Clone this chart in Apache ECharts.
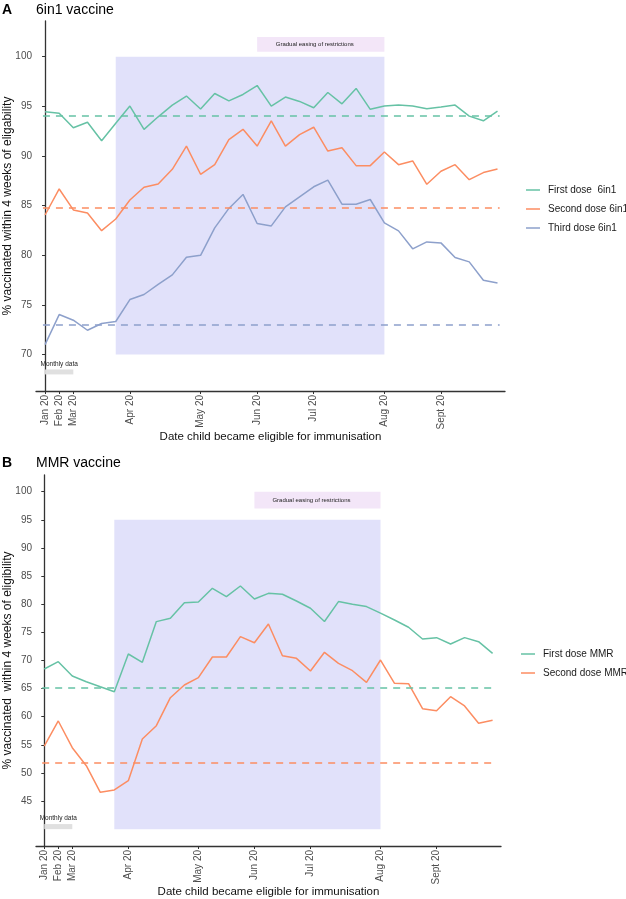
<!DOCTYPE html>
<html>
<head>
<meta charset="utf-8">
<script src="https://cdn.jsdelivr.net/npm/echarts@6/dist/echarts.min.js"></script>
<style>
  html, body { margin: 0; padding: 0; background: #fff; }
  #chart { width: 626px; height: 899px; }
</style>
</head>
<body>
<div id="chart"></div>
<script>
// x positions are week indices: 0-2 monthly points, then weekly
const xTickPos = [0, 1, 2, 6, 11, 15, 19, 24, 28];
const xTickLabels = ['Jan 20', 'Feb 20', 'Mar 20', 'Apr 20', 'May 20', 'Jun 20', 'Jul 20', 'Aug 20', 'Sept 20'];
const yTicksA = [70, 75, 80, 85, 90, 95, 100];
const yTicksB = [45, 50, 55, 60, 65, 70, 75, 80, 85, 90, 95, 100];

// panel A - 6in1
const namesA = ['First dose  6in1', 'Second dose 6in1', 'Third dose 6in1'];
const firstDose6in1 = [94.46, 94.3, 92.84, 93.4, 91.53, 93.3, 95.03, 92.68, 93.95, 95.13, 96.04, 94.73, 96.3, 95.56, 96.2, 97.1, 95.03, 95.94, 95.5, 94.86, 96.4, 95.26, 96.81, 94.7, 95.03, 95.13, 95.03, 94.76, 94.93, 95.13, 94.02, 93.55, 94.53];
const secondDose6in1 = [84.06, 86.68, 84.57, 84.26, 82.48, 83.66, 85.57, 86.85, 87.19, 88.66, 91.0, 88.16, 89.13, 91.65, 92.69, 91.0, 93.53, 91.0, 92.16, 92.9, 90.5, 90.84, 89.03, 89.03, 90.4, 89.13, 89.5, 87.15, 88.46, 89.13, 87.62, 88.33, 88.69];
const thirdDose6in1 = [71.0, 74.03, 73.46, 72.45, 73.13, 73.33, 75.54, 76.05, 77.06, 78.03, 79.81, 80.0, 82.76, 84.72, 86.13, 83.2, 82.96, 84.88, 85.89, 86.9, 87.57, 85.15, 85.15, 85.62, 83.27, 82.46, 80.65, 81.35, 81.25, 79.78, 79.34, 77.49, 77.22];
const baselineA = [94.02, 84.77, 73.02];

// panel B - MMR
const namesB = ['First dose MMR', 'Second dose MMR'];
const firstDoseMMR = [68.47, 69.77, 67.23, 66.21, 65.32, 64.44, 71.14, 69.66, 76.9, 77.49, 80.26, 80.39, 82.82, 81.33, 83.23, 80.92, 81.93, 81.76, 80.57, 79.27, 76.91, 80.46, 80.0, 79.57, 78.4, 77.19, 75.9, 73.8, 74.05, 72.92, 74.05, 73.33, 71.26];
const secondDoseMMR = [54.78, 59.23, 54.48, 51.28, 46.55, 46.96, 48.61, 56.02, 58.39, 63.37, 65.63, 66.93, 70.6, 70.6, 74.22, 73.15, 76.47, 70.84, 70.37, 68.11, 71.44, 69.48, 68.17, 66.1, 70.07, 65.93, 65.86, 61.41, 61.06, 63.55, 61.9, 58.81, 59.35];
const baselineB = [65.22, 51.82];

const colors = ['#66c2a5', '#fc8d62', '#8da0cb'];
const FONT = 'Liberation Sans, Arial, sans-serif';

function xAxisFor(grid, min, max) {
  return {
    gridIndex: grid, type: 'value', min: min, max: max,
    name: 'Date child became eligible for immunisation',
    nameLocation: 'middle', nameGap: 40, nameMoveOverlap: false,
    nameTextStyle: { fontFamily: FONT, fontSize: 11.5, color: '#111', verticalAlign: 'top' },
    splitLine: { show: false },
    axisLine: { lineStyle: { color: '#333', width: 1.3 } },
    axisTick: { customValues: xTickPos, length: 3, lineStyle: { color: '#333' } },
    axisLabel: {
      customValues: xTickPos, rotate: 90, margin: 4,
      fontFamily: FONT, fontSize: 10, color: '#4d4d4d',
      formatter: v => xTickLabels[xTickPos.indexOf(v)] || ''
    }
  };
}

function yAxisFor(grid, min, max, ticks, title) {
  return {
    gridIndex: grid, type: 'value', min: min, max: max,
    name: title, nameLocation: 'middle', nameGap: 22, nameMoveOverlap: false,
    nameTextStyle: { fontFamily: FONT, fontSize: 12, color: '#111' },
    splitLine: { show: false },
    axisLine: { show: true, lineStyle: { color: '#333', width: 1.3 } },
    axisTick: { show: true, customValues: ticks, length: 3, lineStyle: { color: '#333' } },
    axisLabel: { customValues: ticks, margin: 4, fontFamily: FONT, fontSize: 10, color: '#4d4d4d' }
  };
}

function lineSeries(name, values, color, base, axis) {
  return {
    name: name, type: 'line', xAxisIndex: axis, yAxisIndex: axis,
    data: values.map((v, i) => [i, v]),
    showSymbol: false, z: 3, silent: true,
    lineStyle: { color: color, width: 1.5 },
    itemStyle: { color: color },
    markLine: {
      silent: true, symbol: 'none', label: { show: false },
      lineStyle: { color: color, type: [7, 6], width: 1.5 },
      data: [[{ coord: [-0.15, base] }, { coord: [32.15, base] }]]
    }
  };
}

function areaSeries(axis, shadeTop, shadeBottom, boxTop, boxBottom, monthTop, monthBottom) {
  return {
    type: 'line', xAxisIndex: axis, yAxisIndex: axis, data: [], z: 1, silent: true,
    markArea: {
      silent: true,
      data: [
        [{ xAxis: 5, yAxis: shadeBottom, itemStyle: { color: '#e1e1fa' } }, { xAxis: 24, yAxis: shadeTop }],
        [{ xAxis: 15, yAxis: boxBottom, itemStyle: { color: '#f3e6f8' },
           label: { show: true, position: 'inside', offset: [-6, 0], fontFamily: FONT, fontSize: 6, color: '#222',
                    formatter: 'Gradual easing of restrictions' } },
         { xAxis: 24, yAxis: boxTop }],
        [{ xAxis: 0, yAxis: monthBottom, itemStyle: { color: '#e0e0e0' },
           label: { show: true, position: 'top', distance: 2, fontFamily: FONT, fontSize: 6.5, color: '#222',
                    formatter: 'Monthly data' } },
         { xAxis: 2, yAxis: monthTop }]
      ]
    }
  };
}

const legendText = { fontFamily: FONT, fontSize: 10, color: '#1a1a1a', lineHeight: 12, padding: [0, 0, 0, 3] };

const chart = echarts.init(document.getElementById('chart'), null, { renderer: 'canvas' });
chart.setOption({
  backgroundColor: '#fff',
  animation: false,
  textStyle: { fontFamily: FONT },
  title: [
    { text: 'A', left: 2, top: 3, padding: 0, textStyle: { fontFamily: FONT, fontSize: 14, fontWeight: 'bold', color: '#000' } },
    { text: '6in1 vaccine', left: 36, top: 3, padding: 0, textStyle: { fontFamily: FONT, fontSize: 14, fontWeight: 'normal', color: '#000' } },
    { text: 'B', left: 2, top: 456, padding: 0, textStyle: { fontFamily: FONT, fontSize: 14, fontWeight: 'bold', color: '#000' } },
    { text: 'MMR vaccine', left: 36, top: 456, padding: 0, textStyle: { fontFamily: FONT, fontSize: 14, fontWeight: 'normal', color: '#000' } }
  ],
  legend: [
    { data: namesA, orient: 'vertical', left: 526, top: 184, padding: 0, icon: 'rect', itemWidth: 14, itemHeight: 1.5, itemGap: 7,
      textStyle: legendText },
    { data: namesB, orient: 'vertical', left: 521, top: 648, padding: 0, icon: 'rect', itemWidth: 14, itemHeight: 1.5, itemGap: 7,
      textStyle: legendText }
  ],
  grid: [
    { left: 36, right: 121, top: 21, height: 370, outerBoundsMode: 'none' },
    { left: 36, right: 125, top: 475, height: 371, outerBoundsMode: 'none' }
  ],
  xAxis: [xAxisFor(0, -0.64, 32.53), xAxisFor(1, -0.59, 32.6)],
  yAxis: [
    yAxisFor(0, 66.33, 103.6, yTicksA, '% vaccinated within 4 weeks of eligability'),
    yAxisFor(1, 37, 102.97, yTicksB, '% vaccinated  within 4 weeks of eligibility')
  ],
  series: [
    areaSeries(0, 100, 70, 102, 100.5, 68.5, 68.0),
    lineSeries(namesA[0], firstDose6in1, colors[0], baselineA[0], 0),
    lineSeries(namesA[1], secondDose6in1, colors[1], baselineA[1], 0),
    lineSeries(namesA[2], thirdDose6in1, colors[2], baselineA[2], 0),
    areaSeries(1, 95, 40, 100, 97, 40.9, 40.0),
    lineSeries(namesB[0], firstDoseMMR, colors[0], baselineB[0], 1),
    lineSeries(namesB[1], secondDoseMMR, colors[1], baselineB[1], 1)
  ]
});
</script>
</body>
</html>
